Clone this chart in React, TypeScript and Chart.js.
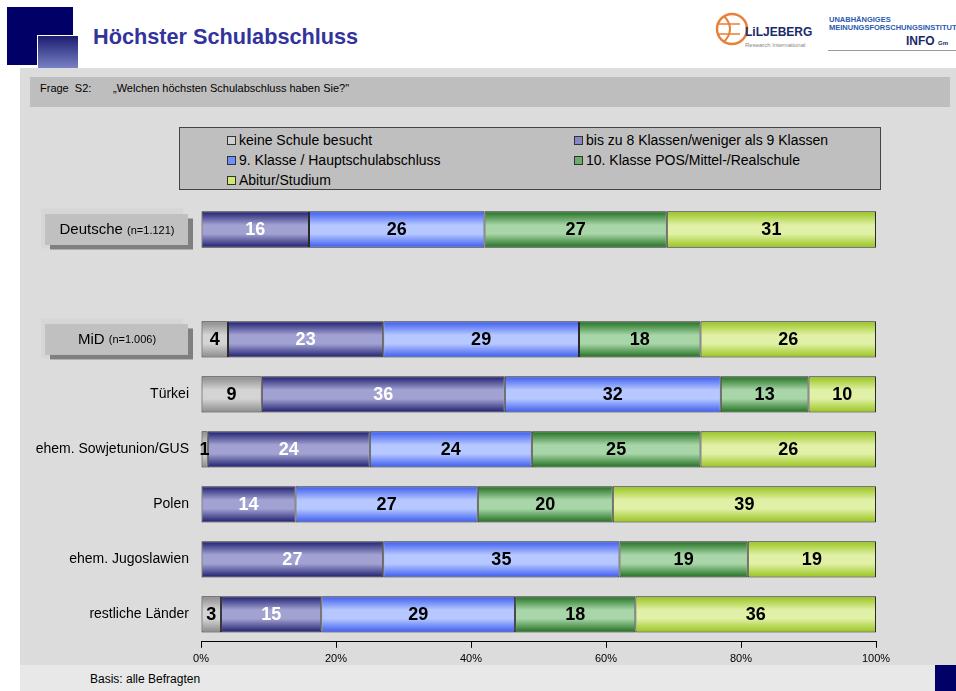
import React, { useEffect, useRef } from "react";
import { Chart, registerables } from "chart.js";
Chart.register(...registerables);

const categories = ["Deutsche", "", "MiD", "Türkei", "ehem. Sowjetunion/GUS", "Polen", "ehem. Jugoslawien", "restliche Länder"];
const sampleSizes = ["(n=1.121)", "", "(n=1.006)", "", "", "", "", ""];
const seriesNames = [
  "keine Schule besucht",
  "bis zu 8 Klassen/weniger als 9 Klassen",
  "9. Klasse / Hauptschulabschluss",
  "10. Klasse POS/Mittel-/Realschule",
  "Abitur/Studium",
];
const keineSchule = [0, null, 4, 9, 1, 0, 0, 3];
const bisAcht = [16, null, 23, 36, 24, 14, 27, 15];
const klasseNeun = [26, null, 29, 32, 24, 27, 35, 29];
const klasseZehn = [27, null, 18, 13, 25, 20, 19, 18];
const abitur = [31, null, 26, 10, 26, 39, 19, 36];
const xTicks = [0, 20, 40, 60, 80, 100];

const rawSeries = [keineSchule, bisAcht, klasseNeun, klasseZehn, abitur];
const edgeColors = ["#8a8a8a", "#1c1c6e", "#3a5af0", "#1e6e1e", "#98c41c"];
const midColors = ["#d4d4d4", "#a2a2d2", "#b6c8ff", "#a8d6a8", "#e0f0a6"];
const legendColors = ["#d0d0d0", "#8686c6", "#7090ff", "#6aae6a", "#d0ea70"];
const labelColors = ["#000", "#fff", "#000", "#000", "#000"];
const FONT = "'Liberation Sans', Arial, sans-serif";

function App() {
  const ref = useRef<HTMLCanvasElement | null>(null);
  useEffect(() => {
    const canvas = ref.current;
    if (!canvas) return;
    const sums = categories.map((_, j) =>
      rawSeries.reduce((s, arr) => s + (arr[j] ?? 0), 0)
    );
    const datasets = rawSeries.map((arr, i) => ({
      label: seriesNames[i],
      data: arr.map((v, j) => (v == null || sums[j] === 0 ? null : (v / sums[j]) * 100)),
      borderColor: "#2a2a2a",
      borderWidth: 1,
      borderSkipped: false as const,
      backgroundColor: (ctx: any) => {
        const chart = ctx.chart;
        const ys = chart.scales?.y;
        if (!ys || ctx.type !== "data" || typeof ctx.dataIndex !== "number") return midColors[i];
        const cy = ys.getPixelForValue(ctx.dataIndex);
        const step = Math.abs(ys.getPixelForValue(1) - ys.getPixelForValue(0));
        const h = step * 0.66;
        if (!isFinite(cy) || !isFinite(h) || h <= 0) return midColors[i];
        const g = chart.ctx.createLinearGradient(0, cy - h / 2, 0, cy + h / 2);
        g.addColorStop(0, edgeColors[i]);
        g.addColorStop(0.38, midColors[i]);
        g.addColorStop(0.62, midColors[i]);
        g.addColorStop(1, edgeColors[i]);
        return g;
      },
    }));

    const labelPlugin = {
      id: "valueLabels",
      afterDatasetsDraw(chart: any) {
        const c = chart.ctx;
        c.save();
        c.font = `bold 18px ${FONT}`;
        c.textAlign = "center";
        c.textBaseline = "middle";
        rawSeries.forEach((arr, i) => {
          const meta = chart.getDatasetMeta(i);
          meta.data.forEach((bar: any, j: number) => {
            const v = arr[j];
            if (!v) return;
            const p = bar.getProps(["x", "y", "base"], true);
            c.fillStyle = labelColors[i];
            c.fillText(String(v), (p.x + p.base) / 2, p.y + 1);
          });
        });
        c.restore();
      },
    };

    const catPlugin = {
      id: "catLabels",
      afterDraw(chart: any) {
        const c = chart.ctx;
        const ys = chart.scales.y;
        c.save();
        categories.forEach((name, j) => {
          if (!name) return;
          const cy = ys.getPixelForValue(j);
          if (sampleSizes[j]) {
            c.fillStyle = "#d6d6d6";
            c.fillRect(41, cy - 21, 142, 40);
            c.fillStyle = "#7f7f7f";
            c.fillRect(50, cy - 11, 143, 31);
            c.fillStyle = "#c0c0c0";
            c.fillRect(45, cy - 15.5, 143, 31);
            c.font = `15px ${FONT}`;
            const w1 = c.measureText(name + " ").width;
            c.font = `11px ${FONT}`;
            const w2 = c.measureText(sampleSizes[j]).width;
            const x0 = 117 - (w1 + w2) / 2;
            c.fillStyle = "#000";
            c.textBaseline = "middle";
            c.textAlign = "left";
            c.font = `15px ${FONT}`;
            c.fillText(name + " ", x0, cy);
            c.font = `11px ${FONT}`;
            c.fillText(sampleSizes[j], x0 + w1, cy + 1);
          } else {
            c.font = `14px ${FONT}`;
            c.fillStyle = "#000";
            c.textAlign = "right";
            c.textBaseline = "middle";
            c.fillText(name, 189, cy);
          }
        });
        c.restore();
      },
    };

    const chart = new Chart(canvas, {
      type: "bar",
      data: { labels: categories, datasets },
      options: {
        indexAxis: "y",
        animation: false,
        responsive: true,
        maintainAspectRatio: false,
        layout: { padding: { left: 201, right: 80, top: 7, bottom: 2 } },
        datasets: { bar: { categoryPercentage: 1, barPercentage: 0.66 } },
        plugins: { legend: { display: false }, tooltip: { enabled: false } },
        scales: {
          y: { stacked: true, display: false },
          x: {
            stacked: true,
            min: 0,
            max: 100,
            afterBuildTicks: (axis: any) => {
              axis.ticks = xTicks.map((v) => ({ value: v }));
            },
            grid: { drawOnChartArea: false, drawTicks: true, tickLength: 6, color: "#000" },
            border: { display: true, color: "#000", width: 1 },
            ticks: {
              padding: 5,
              color: "#000",
              font: { family: FONT, size: 11 },
              callback: (v: any) => `${v}%`,
            },
          },
        },
      },
      plugins: [labelPlugin, catPlugin],
    });
    chart.update();
    return () => chart.destroy();
  }, []);

  const legendPos = [
    [47, 12],
    [394, 12],
    [47, 32],
    [394, 32],
    [47, 52],
  ];

  return (
    <div style={{ position: "absolute", left: 0, top: 0, width: 956, height: 691, background: "#fff", overflow: "hidden", fontFamily: FONT }}>
      <div style={{ position: "absolute", left: 7, top: 7, width: 66, height: 58, background: "#000066" }} />
      <div style={{ position: "absolute", left: 37, top: 35, width: 41, height: 41, background: "linear-gradient(#1c1c70, #8e9ad8)", borderLeft: "1px solid #fff", borderTop: "1px solid #fff", boxSizing: "border-box" }} />
      <div style={{ position: "absolute", left: 93, top: 24, fontSize: 21.7, fontWeight: "bold", color: "#33339c", whiteSpace: "nowrap" }}>Höchster Schulabschluss</div>

      {/* logos */}
      <svg style={{ position: "absolute", left: 714, top: 8 }} width={36} height={42}>
        <circle cx={18} cy={21} r={15} fill="none" stroke="#e8803a" strokeWidth={2.5} />
        <path d="M10 8 Q22 21 10 34" fill="none" stroke="#e8803a" strokeWidth={2} />
        <path d="M4 16 H26 M4 26 H26" stroke="#e8803a" strokeWidth={1.5} />
      </svg>
      <div style={{ position: "absolute", left: 745, top: 25, fontSize: 12, fontWeight: "bold", color: "#1a2a6a", whiteSpace: "nowrap" }}>LiLJEBERG</div>
      <div style={{ position: "absolute", left: 745, top: 42, fontSize: 6, color: "#888", whiteSpace: "nowrap" }}>Research International</div>
      <div style={{ position: "absolute", left: 829, top: 16, fontSize: 7.5, fontWeight: "bold", color: "#2a5ab0", whiteSpace: "nowrap", lineHeight: "8px" }}>UNABHÄNGIGES<br />MEINUNGSFORSCHUNGSINSTITUT</div>
      <div style={{ position: "absolute", left: 906, top: 34, fontSize: 12, fontWeight: "bold", color: "#1a2a6a", whiteSpace: "nowrap" }}>INFO <span style={{ fontSize: 6 }}>Gm</span></div>
      <div style={{ position: "absolute", left: 828, top: 50, width: 128, height: 1, background: "#999" }} />

      {/* panel */}
      <div style={{ position: "absolute", left: 20, top: 68, width: 936, height: 597, background: "#dcdcdc" }} />
      <div style={{ position: "absolute", left: 30, top: 77, width: 920, height: 30, background: "#bebebe" }} />
      <div style={{ position: "absolute", left: 40, top: 82, fontSize: 11, color: "#000", whiteSpace: "nowrap" }}>Frage&nbsp; S2:</div>
      <div style={{ position: "absolute", left: 113, top: 82, fontSize: 11, color: "#000", whiteSpace: "nowrap" }}>„Welchen höchsten Schulabschluss haben Sie?"</div>

      {/* legend */}
      <div style={{ position: "absolute", left: 179, top: 127, width: 702, height: 63, background: "#bfbfbf", border: "1px solid #444", boxSizing: "border-box" }}>
        {seriesNames.map((n, i) => (
          <div key={n} style={{ position: "absolute", left: legendPos[i][0], top: legendPos[i][1] - 9, height: 18, display: "flex", alignItems: "center", whiteSpace: "nowrap", fontSize: 14, color: "#000" }}>
            <span style={{ display: "inline-block", width: 7, height: 7, border: "1px solid #333", background: legendColors[i], marginRight: 3 }} />
            {n}
          </div>
        ))}
      </div>

      {/* footer */}
      <div style={{ position: "absolute", left: 20, top: 665, width: 936, height: 26, background: "#e8e8e8" }} />
      <div style={{ position: "absolute", left: 90, top: 672, fontSize: 12, color: "#000", whiteSpace: "nowrap" }}>Basis: alle Befragten</div>
      <div style={{ position: "absolute", left: 935, top: 665, width: 21, height: 26, background: "#000066" }} />

      <div style={{ position: "absolute", left: 0, top: 195, width: 956, height: 478 }}>
        <canvas ref={ref} />
      </div>
    </div>
  );
}

export default App;
